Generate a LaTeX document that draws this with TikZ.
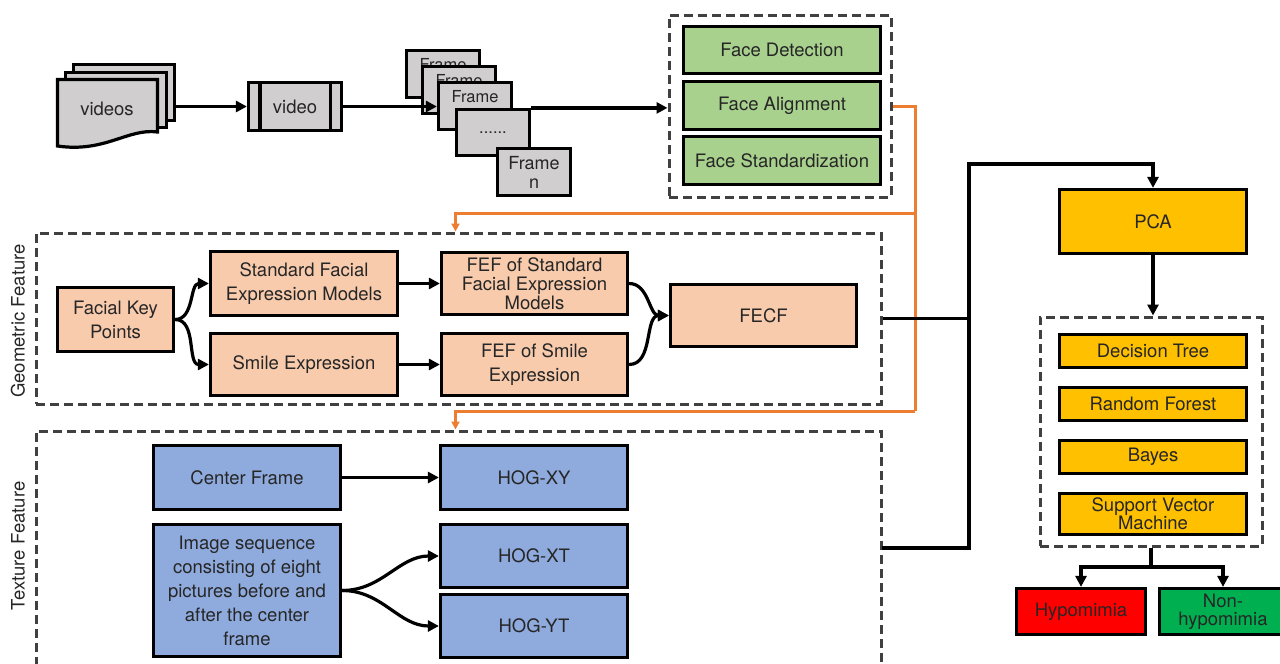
\documentclass[tikz,border=0pt]{standalone}
\usepackage{fontspec}
\setmainfont{TeX Gyre Heros}
\usetikzlibrary{arrows.meta,calc}
\definecolor{docgray}{HTML}{D0CECE}
\definecolor{prepgreen}{HTML}{A9D18E}
\definecolor{peach}{HTML}{F8CBAD}
\definecolor{texblue}{HTML}{8FAADC}
\definecolor{gold}{HTML}{FFC000}
\definecolor{hypored}{HTML}{FF0000}
\definecolor{okgreen}{HTML}{00B050}
\definecolor{flowor}{HTML}{ED7D31}
\definecolor{textgray}{HTML}{262626}
\definecolor{dashgray}{HTML}{404040}
\tikzset{
  box/.style={draw=black, line width=3.2pt, inner sep=2pt, align=center,
    text=textgray, font=\fontsize{18.5}{24}\selectfont},
  framebox/.style={box, fill=docgray, minimum width=73pt, minimum height=47pt,
    font=\fontsize{16.5}{19}\selectfont},
  group/.style={draw=dashgray, line width=3pt, dash pattern=on 9pt off 5pt},
  line/.style={draw=black, line width=3.2pt},
  arr/.style={line, -{Triangle[length=11pt,width=11pt]}},
  oline/.style={draw=flowor, line width=3pt},
  oarr/.style={oline, -{Triangle[length=8pt,width=8pt]}},
  sidelabel/.style={rotate=90, text=textgray, font=\fontsize{18.5}{22}\selectfont},
}
\begin{document}
\begin{tikzpicture}[x=1pt,y=-1pt]
\useasboundingbox (0,0) rectangle (1280,664);

% ---------- input: stack of videos ----------
\node[box, fill=docgray, minimum width=101pt, minimum height=56pt] (vback) at (124,92.5) {};
\node[box, fill=docgray, minimum width=101pt, minimum height=55pt] (vmid) at (116,100) {};
\draw[line, fill=docgray, line join=miter]
  (57.5,79.5) -- (157.5,79.5) -- (157.5,132) .. controls (128,128) and (105,153) .. (57.5,146) -- cycle;
\node[text=textgray, font=\fontsize{18.5}{24}\selectfont] (videos) at (107,109) {videos};

% single video
\node[box, fill=docgray, minimum width=93pt, minimum height=48pt] (video) at (295,106.5) {video};
\draw[line] ([xshift=13pt]video.north west) -- ([xshift=13pt]video.south west);
\draw[line] ([xshift=-13pt]video.north east) -- ([xshift=-13pt]video.south east);

% frames
\node[framebox] (f1) at (443,74) {Frame\\\phantom{n}};
\node[framebox] (f2) at (459,90) {Frame\\\phantom{n}};
\node[framebox] (f3) at (475,106) {Frame\\\phantom{n}};
\node[framebox, minimum height=46pt] (f4) at (493,132.5) {......};
\node[framebox, font=\fontsize{18}{19}\selectfont] (f5) at (534,172) {Frame\\n};

\draw[arr] (video.west -| vback.east) -- (video.west);
\draw[arr] (video.east) -- (video.east -| f3.west);

% ---------- preprocessing ----------
\node[group, minimum width=222pt, minimum height=182pt] (prep) at (780,106) {};
\node[box, fill=prepgreen, minimum width=197pt, minimum height=47pt] (fd) at (782,50) {Face Detection};
\node[box, fill=prepgreen, minimum width=197pt, minimum height=48pt] (fa) at (782,105.5) {Face Alignment};
\node[box, fill=prepgreen, minimum width=197pt, minimum height=48pt] (fs) at (782,160.5) {Face Standardization};
\draw[arr] (f4.north east) -- (f4.north east -| prep.west);

% ---------- geometric feature ----------
\node[group, minimum width=845pt, minimum height=171pt] (geo) at (458.5,318.5) {};
\node[sidelabel] (geolab) at (18,321) {Geometric Feature};
\node[box, fill=peach, minimum width=116pt, minimum height=64pt] (fkp) at (115.5,319.5) {Facial Key\\Points};
\node[box, fill=peach, minimum width=187pt, minimum height=64pt] (sfem) at (304,283.5) {Standard Facial\\Expression Models};
\node[box, fill=peach, minimum width=187pt, minimum height=62pt] (smile) at (304,364.5) {Smile Expression};
\node[box, fill=peach, minimum width=186pt, minimum height=62pt, font=\fontsize{18.5}{19}\selectfont] (fefs) at (534.5,283.5) {FEF of Standard\\Facial Expression\\Models};
\node[box, fill=peach, minimum width=186pt, minimum height=62pt] (fefsm) at (534.5,364.5) {FEF of Smile\\Expression};
\node[box, fill=peach, minimum width=186pt, minimum height=62pt] (fecf) at (763.5,315.5) {FECF};

\draw[arr] (fkp.east) to[out=0,in=180] (sfem.west);
\draw[arr] (fkp.east) to[out=0,in=180] (smile.west);
\draw[arr] (sfem.east) -- (fefs.west);
\draw[arr] (smile.east) -- (fefsm.west);
\draw[arr] (fefs.east) to[out=0,in=180] (fecf.west);
\draw[arr] (fefsm.east) to[out=0,in=180] (fecf.west);

% ---------- texture feature ----------
\node[group, minimum width=845pt, minimum height=268pt] (tex) at (458.5,565) {};
\node[sidelabel] (texlab) at (18,546) {Texture Feature};
\node[box, fill=texblue, minimum width=187pt, minimum height=64pt] (cf) at (247,477.5) {Center Frame};
\node[box, fill=texblue, minimum width=187pt, minimum height=132pt] (seq) at (247,590.5) {Image sequence\\consisting of eight\\pictures before and\\after the center\\frame};
\node[box, fill=texblue, minimum width=187pt, minimum height=64pt] (hxy) at (534,477.5) {HOG-XY};
\node[box, fill=texblue, minimum width=187pt, minimum height=63pt] (hxt) at (534,556) {HOG-XT};
\node[box, fill=texblue, minimum width=187pt, minimum height=63pt] (hyt) at (534,626) {HOG-YT};

\draw[arr] (cf.east) -- (hxy.west);
\draw[arr] (seq.east) to[out=0,in=180] (hxt.west);
\draw[arr] (seq.east) to[out=0,in=180] (hyt.west);

% ---------- routing of the aligned faces ----------
\coordinate (o1) at (915,213);
\coordinate (o2) at (915,411);
\draw[oline] (prep.east) -| (o2);
\draw[oarr] (o1) -| ([xshift=421pt]geo.north west);
\draw[oarr] (o2) -| ([xshift=421pt]tex.north west);

% ---------- classification ----------
\node[box, fill=gold, minimum width=187pt, minimum height=64pt] (pca) at (1153,221.5) {PCA};
\node[group, minimum width=222pt, minimum height=229pt] (cls) at (1151,431.5) {};
\node[box, fill=gold, minimum width=187pt, minimum height=33pt] (dt) at (1153,351) {Decision Tree};
\node[box, fill=gold, minimum width=187pt, minimum height=33pt] (rf) at (1153,404) {Random Forest};
\node[box, fill=gold, minimum width=187pt, minimum height=33pt] (bay) at (1153,457) {Bayes};
\node[box, fill=gold, minimum width=187pt, minimum height=41pt, font=\fontsize{18.5}{18}\selectfont] (svm) at (1153,514) {Support Vector\\Machine};

\coordinate (j1) at (969,164);
\coordinate (texout) at (882,548);
\draw[line] (geo.east) -- (geo.east -| j1);
\draw[arr, line join=miter] (texout) -| (j1) -| (pca.north);
\draw[arr] (pca.south) -- (pca.south |- cls.north);

\node[box, fill=hypored, minimum width=129pt, minimum height=46pt] (hypo) at (1081,611.5) {Hypomimia};
\node[box, fill=okgreen, minimum width=127pt, minimum height=46pt, font=\fontsize{18.5}{18}\selectfont] (non) at (1223,611.5) {Non-\\hypomimia};

\coordinate (split) at (1152,567);
\draw[line] (cls.south) -- (cls.south |- split);
\draw[arr, line join=miter] (cls.south |- split) -| (hypo.north);
\draw[arr, line join=miter] (cls.south |- split) -| (non.north);
\end{tikzpicture}
\end{document}
